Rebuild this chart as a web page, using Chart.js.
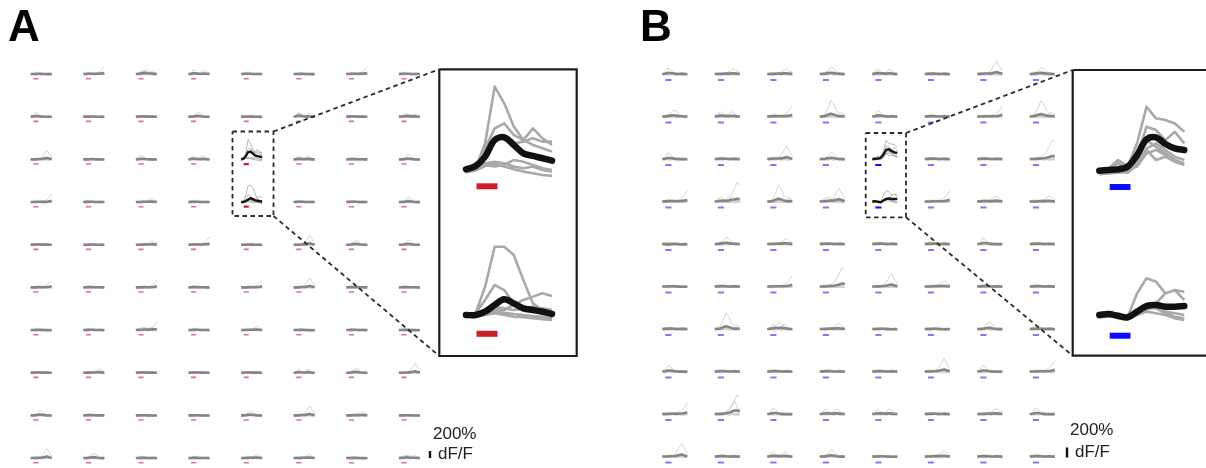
<!DOCTYPE html>
<html><head><meta charset="utf-8">
<script src="https://cdn.jsdelivr.net/npm/chart.js@4.4.0/dist/chart.umd.min.js"></script>
<style>
html,body{margin:0;padding:0;background:#fff;}
#wrap{position:relative;width:1206px;height:468px;overflow:hidden;font-family:"Liberation Sans",Arial,Helvetica,sans-serif;}
#c{position:absolute;left:0;top:0;}
.lbl{position:absolute;color:#222;white-space:nowrap;line-height:1;}
.panel{font-weight:bold;font-size:44px;color:#000;}
</style></head><body>
<div id="wrap">
<canvas id="c" width="1206" height="468"></canvas>
<div class="lbl panel" style="left:8px;top:4px">A</div>
<div class="lbl panel" style="left:640px;top:4px">B</div>
<div class="lbl" style="left:433px;top:425px;font-size:17px">200%</div>
<div class="lbl" style="left:438px;top:445px;font-size:17px">dF/F</div>
<div class="lbl" style="left:1070px;top:421px;font-size:17px">200%</div>
<div class="lbl" style="left:1075px;top:443px;font-size:17px">dF/F</div>
</div>
<script>
// ---------------- DATA ----------------
const times = [0, 1, 2, 3, 4, 5, 6, 7, 8, 9];          // frame index
const stimWindow = [1.1, 3.3];                          // stimulus on/off (frames)
const scaleBarPct = 200;                                 // scale bar, % dF/F

// background trials present in every recording site (% dF/F)
const noise1 = [18, 10, -14, -24, -10, 14, 6, -18, -10, 10];
const noise2 = [-18, -10, 14, 26, 6, -18, -10, 14, 24, 0];
const noise3 = [0, 24, 32, 14, -14, -26, -14, 10, 0, -14];
const noise4 = [-10, -24, -10, 18, 28, 10, -10, -24, -14, 6];
const noise5 = [10, 0, -24, -10, 14, 24, 18, 0, -24, -18];

// response shapes seen in single trials (% dF/F)
const shapeSmall    = [0, 15, 35, 30, 10, 5, 15, 30, 20, 5];
const shapeEarly    = [0, 30, 120, 90, 30, 10, 0, 5, 0, 0];
const shapeMid      = [0, 0, 20, 70, 130, 110, 50, 15, 5, 0];
const shapeMidHigh  = [0, 10, 60, 180, 320, 250, 120, 60, 80, 40];
const shapeLate     = [0, 0, 5, 10, 20, 40, 80, 110, 60, 30];
const shapeLateHigh = [0, 0, 0, 10, 30, 80, 180, 260, 150, 60];
const shapeRise     = [0, 0, 5, 10, 15, 25, 40, 70, 130, 220];
const shapeRiseHigh = [0, 5, 10, 20, 40, 80, 150, 250, 380, 340];
const shapeDouble   = [0, 40, 100, 50, 20, 40, 100, 60, 20, 10];
const shapeWide     = [0, 30, 60, 80, 70, 50, 60, 70, 40, 10];
const shapeDip      = [0, -20, -40, -35, -25, -10, -15, -25, -20, -10];

// which single-trial shapes appear in each site (rows of 8 sites; "-" none, "*" zoomed site)
const sitesA = [
  "- rs wm el s - sr s",
  "e - s m - ed s w",
  "L - e sd * d s m",
  "r s l s * s s m",
  "s - l rs - L m m",
  "r s r s r L s s",
  "- s rw s l - s -",
  "s l s s s d m L",
  "m s - - m L l -",
  "L m s s l l - w"
];
const sitesB = [
  "es l l ms ds s Ls ms",
  "ms ds rs M es s r Ms",
  "e s Ls m * s s R",
  "rs Rd M Lw * r ls l",
  "x ms l s s s e s",
  "- s r R L l s s",
  "s M md l - - m s",
  "e s s s s L e r",
  "r RL e d d s l e",
  "L s d m - l s s"
];

// zoomed sites: mean and single trials (% dF/F)
const aTopMean = [0, 23, 88, 204, 223, 170, 111, 93, 77, 60];
const aTopGray = [
  [-9, 7, 181, 576, 460, 298, 204, 170, 147, 123],
  [-5, 19, 146, 285, 320, 240, 204, 285, 216, 170],
  [-9, 7, 88, 204, 239, 181, 193, 216, 193, 193],
  [-16, -5, 42, 53, 42, 19, 7, 19, -5, -16],
  [-23, -9, 23, 37, 19, 0, -16, -28, -40, -46],
  [-16, -5, 30, 19, 30, 65, 53, 30, 7, -5]
];
const aBotMean = [0, 0, 23, 70, 109, 81, 46, 35, 23, 7];
const aBotGray = [
  [-7, 12, 197, 476, 476, 418, 244, 81, 35, 12],
  [-7, 12, 105, 209, 174, 81, 46, 23, 12, 0],
  [-7, 0, 23, 46, 35, 70, 105, 128, 151, 132],
  [-12, 0, 35, 58, 46, 35, 46, 58, 46, 35],
  [-16, -12, 0, 12, 0, -12, -16, -23, -30, -35],
  [-7, -2, 16, 30, 16, 7, 0, -7, -12, -23]
];
const bTopMean = [0, 4, 8, 24, 92, 184, 196, 157, 131, 122];
const bTopGray = [
  [-6, 14, 63, 24, 161, 376, 308, 298, 278, 229],
  [-12, -6, 43, 4, 82, 259, 239, 180, 229, 161],
  [-16, -12, -6, 4, 63, 180, 141, 102, 63, 43],
  [-20, -16, -12, -6, 43, 131, 161, 122, 82, 63],
  [-8, 0, 14, 4, 24, 102, 122, 92, 63, 39],
  [-16, -8, 0, -12, 33, 122, 63, 82, 53, 33]
];
const bBotMean = [0, 6, -6, -14, 20, 53, 59, 49, 49, 53];
const bBotGray = [
  [-6, 0, 10, -10, 127, 216, 196, 127, 147, 88],
  [-10, -6, -10, -20, 10, 39, 69, 127, 147, 137],
  [-6, 0, 6, -10, 29, 49, 39, 10, -10, -20],
  [-14, -10, -6, -25, 0, 20, 10, 0, -20, -29],
  [-10, -2, 2, -14, 14, 33, 45, 20, 10, 0]
];

// ---------------- LAYOUT ----------------
const noiseTraces = [noise1, noise2, noise3, noise4, noise5];
const shapeByCode = {s: shapeSmall, e: shapeEarly, m: shapeMid, M: shapeMidHigh, l: shapeLate,
  L: shapeLateHigh, r: shapeRise, R: shapeRiseHigh, d: shapeDouble, w: shapeWide, x: shapeDip};

const panels = [
  {sites: sitesA, x0: 30.7, dx: 52.6, y0: 74, dy: 42.67, w: 21, k: 0.035, barGap: 4.7, barW: 1.6,
   barLight: '#e0737c', barStrong: '#cc1f27', zoomed: [[aTopMean, aTopGray], [aBotMean, aBotGray]],
   insets: [{x: 466, y: 169.3, w: 86, k: 0.1435, barGap: 17}, {x: 466, y: 315, w: 86, k: 0.1435, barGap: 18.8}],
   rect: {l: 232.5, r: 273.5, t: 131.5, b: 216}, box: {l: 439.3, r: 576.7, t: 69.3, b: 356},
   scale: {x: 430, y: 458}},
  {sites: sitesB, x0: 662.3, dx: 52.5, y0: 74, dy: 42.5, w: 25, k: 0.05, barGap: 6, barW: 2,
   barLight: '#7a7aff', barStrong: '#0a0aff', zoomed: [[bTopMean, bTopGray], [bBotMean, bBotGray]],
   insets: [{x: 1099.3, y: 170.7, w: 85, k: 0.17, barGap: 16.3}, {x: 1099.3, y: 315, w: 85, k: 0.17, barGap: 20.7}],
   rect: {l: 865.7, r: 906, t: 133, b: 217.3}, box: {l: 1072.7, r: 1240, t: 70, b: 355.7},
   scale: {x: 1067, y: 457.5}}
];

const tMax = times[times.length - 1];
function tracePts(vals, g) {
  return vals.map((v, i) => ({x: g.x + times[i] / tMax * g.w, y: g.y - v * g.k}));
}
function addLine(list, pts) {
  for (const p of pts) list.push(p);
  list.push({x: pts[pts.length - 1].x, y: null});
}
function barPts(g) {
  return [{x: g.x + stimWindow[0] / tMax * g.w, y: g.y + g.barGap},
          {x: g.x + stimWindow[1] / tMax * g.w, y: g.y + g.barGap}];
}
function meanOf(traces) {
  return times.map((_, i) => traces.reduce((s, t) => s + t[i], 0) / traces.length);
}

const datasets = [];
function ds(data, color, width, order, extra) {
  datasets.push(Object.assign({data, borderColor: color, backgroundColor: color, borderWidth: width,
    showLine: true, pointRadius: 0, pointHoverRadius: 0, fill: false, spanGaps: false, tension: 0,
    borderJoinStyle: 'round', borderCapStyle: 'butt', order}, extra || {}));
}

for (const P of panels) {
  const grayPts = [], meanPts = [], hlGray = [], hlMean = [], barL = [], barS = [];
  let zi = 0;
  P.sites.forEach((rowStr, r) => {
    rowStr.split(' ').forEach((code, c) => {
      const g = {x: P.x0 + c * P.dx, y: P.y0 + r * P.dy, w: P.w, k: P.k, barGap: P.barGap};
      if (code === '*') {
        const [m, grays] = P.zoomed[zi];
        grays.forEach(t => addLine(hlGray, tracePts(t, g)));
        addLine(hlMean, tracePts(m, g));
        addLine(barS, barPts(g));
        // inset
        const ig = P.insets[zi];
        const iGray = [], iMean = [], iBar = [];
        grays.forEach(t => addLine(iGray, tracePts(t, ig)));
        addLine(iMean, tracePts(m, ig));
        addLine(iBar, barPts(ig));
        ds(iGray, '#a9a9a9', 2.6, 6);
        ds(iMean, '#111111', 6.5, 5, {tension: 0.35, borderCapStyle: 'round'});
        ds(iBar, P.barStrong, 6, 4);
        zi++;
        return;
      }
      const trials = noiseTraces.slice();
      if (code !== '-') for (const ch of code) trials.push(shapeByCode[ch]);
      trials.forEach(t => addLine(grayPts, tracePts(t, g)));
      addLine(meanPts, tracePts(meanOf(trials), g));
      addLine(barL, barPts(g));
    });
  });
  ds(grayPts, '#cfcfcf', 0.9, 12);
  ds(meanPts, '#858585', 2.6, 11);
  ds(hlGray, '#b0b0b0', 0.9, 10);
  ds(hlMean, '#151515', 2.4, 9);
  ds(barL, P.barLight, P.barW, 8);
  ds(barS, P.barStrong, 2.2, 8);

  // dashed zoom outline and connectors
  const R = P.rect, B = P.box;
  const dash = [
    {x: R.l, y: R.t}, {x: R.r, y: R.t}, {x: R.r, y: R.b}, {x: R.l, y: R.b}, {x: R.l, y: R.t}, {x: R.l, y: null},
    {x: R.r, y: R.t}, {x: B.l, y: B.t}, {x: B.l, y: null},
    {x: R.r, y: R.b}, {x: B.l, y: B.b}, {x: B.l, y: null}
  ];
  ds(dash, '#2a2a2a', 1.8, 3, {borderDash: [4.5, 3.5], borderJoinStyle: 'miter'});
  ds([{x: B.l, y: B.t}, {x: B.r, y: B.t}, {x: B.r, y: B.b}, {x: B.l, y: B.b}, {x: B.l, y: B.t}],
     '#1e1e1e', 2.2, 2, {borderJoinStyle: 'miter'});
  // scale bar
  ds([{x: P.scale.x, y: P.scale.y}, {x: P.scale.x, y: P.scale.y - scaleBarPct * P.k}], '#111111', 2.4, 1);
}

new Chart(document.getElementById('c'), {
  type: 'scatter',
  data: {datasets},
  options: {
    responsive: false, animation: false, events: [],
    layout: {padding: 0},
    plugins: {legend: {display: false}, tooltip: {enabled: false}, title: {display: false}},
    scales: {
      x: {type: 'linear', min: 0, max: 1206, display: false},
      y: {type: 'linear', min: 0, max: 468, reverse: true, display: false}
    }
  }
});
</script>
</body></html>
